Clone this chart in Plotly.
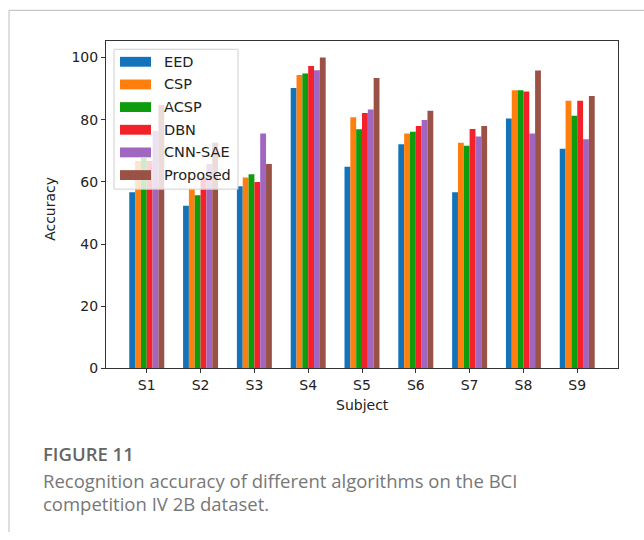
import plotly.graph_objects as go

# Accuracy (%) per subject for each method on BCI competition IV 2B
subjects = ["S1", "S2", "S3", "S4", "S5", "S6", "S7", "S8", "S9"]
methods = ["EED", "CSP", "ACSP", "DBN", "CNN-SAE", "Proposed"]

eed = [56.7, 52.3, 58.6, 90.2, 64.9, 72.1, 56.7, 80.4, 70.7]
csp = [66.7, 57.9, 61.4, 94.4, 80.8, 75.6, 72.6, 89.5, 86.1]
acsp = [67.7, 55.7, 62.5, 94.9, 76.9, 76.1, 71.6, 89.5, 81.3]
dbn = [66.7, 61.6, 60.0, 97.3, 82.2, 78.0, 77.0, 89.1, 86.1]
cnn_sae = [76.4, 65.8, 75.6, 95.9, 83.3, 79.9, 74.6, 75.6, 73.7]
proposed = [84.7, 72.6, 65.8, 100.0, 93.4, 82.9, 78.0, 95.8, 87.6]

series = [eed, csp, acsp, dbn, cnn_sae, proposed]
colors = ["#1273b9", "#ff7f0e", "#0c9c0c", "#f3222a", "#a066c0", "#9a5247"]

W, H = 644, 540
# plot area in pixels
px_left, px_right, px_top, px_bottom = 106, 618, 42, 374


def fx(px):
    return px / W


def fy(py):
    return 1 - py / H


fig = go.Figure()
for name, vals, col in zip(methods, series, colors):
    fig.add_trace(go.Bar(
        x=subjects, y=vals, name=name,
        marker=dict(color=col, line=dict(width=0)),
        showlegend=False,
    ))

tick_font = dict(family="DejaVu Sans", size=14, color="#222222")

fig.update_layout(
    width=W, height=H,
    margin=dict(l=0, r=0, t=0, b=0),
    paper_bgcolor="white",
    plot_bgcolor="white",
    barmode="group",
    bargap=0.35,
    bargroupgap=0,
    xaxis=dict(
        domain=[fx(px_left), fx(px_right)],
        range=[-0.7575, 8.7575],
        showgrid=False, zeroline=False,
        showline=True, linecolor="#333333", linewidth=1, mirror=True,
        ticks="outside", ticklen=4, tickcolor="#333333",
        tickfont=tick_font,
    ),
    yaxis=dict(
        domain=[fy(px_bottom), fy(px_top)],
        range=[0, 105.2],
        tickvals=[0, 20, 40, 60, 80, 100],
        showgrid=False, zeroline=False,
        showline=True, linecolor="#333333", linewidth=1, mirror=True,
        ticks="outside", ticklen=4, tickcolor="#333333",
        tickfont=tick_font,
    ),
)

shapes = []
annotations = []

# card frame lines
shapes.append(dict(type="line", xref="paper", yref="paper",
                   x0=fx(9), x1=1, y0=fy(10.5), y1=fy(10.5),
                   line=dict(color="#c8c8c8", width=1.2)))
shapes.append(dict(type="line", xref="paper", yref="paper",
                   x0=fx(9), x1=fx(9), y0=fy(10.5), y1=0,
                   line=dict(color="#c8c8c8", width=1.2)))

# legend box (semi-transparent, drawn over the bars)
lx0, lx1, ly0, ly1 = 114, 238, 50, 192
shapes.append(dict(type="rect", xref="paper", yref="paper", layer="above",
                   x0=fx(lx0), x1=fx(lx1), y0=fy(ly1), y1=fy(ly0),
                   fillcolor="rgba(255,255,255,0.8)",
                   line=dict(color="#d0d0d0", width=1)))
row0, row_step = 62.7, 23.0
for i, (name, col) in enumerate(zip(methods, colors)):
    cy = row0 + i * row_step
    shapes.append(dict(type="rect", xref="paper", yref="paper", layer="above",
                       x0=fx(120), x1=fx(151), y0=fy(cy + 5), y1=fy(cy - 5),
                       fillcolor=col, line=dict(width=0)))
    annotations.append(dict(text=name, xref="paper", yref="paper",
                            x=fx(162), y=fy(cy), xanchor="left", yanchor="middle",
                            showarrow=False,
                            font=dict(family="DejaVu Sans", size=14.5, color="#222222")))

# axis titles
annotations.append(dict(text="Accuracy", xref="paper", yref="paper",
                        x=fx(50), y=fy(212),
                        xanchor="center", yanchor="middle", textangle=-90,
                        showarrow=False,
                        font=dict(family="DejaVu Sans", size=14, color="#222222")))
annotations.append(dict(text="Subject", xref="paper", yref="paper",
                        x=fx((px_left + px_right) / 2), y=fy(411),
                        xanchor="center", yanchor="middle",
                        showarrow=False,
                        font=dict(family="DejaVu Sans", size=14, color="#222222")))

# caption
annotations.append(dict(text="FIGURE 11", xref="paper", yref="paper",
                        x=fx(41), y=fy(460), xanchor="left", yanchor="middle",
                        showarrow=False,
                        font=dict(family="Open Sans", size=18.5, color="#666666",
                                  weight=600)))
annotations.append(dict(text="Recognition accuracy of different algorithms on the BCI",
                        xref="paper", yref="paper",
                        x=fx(41), y=fy(488), xanchor="left", yanchor="middle",
                        showarrow=False,
                        font=dict(family="Open Sans", size=18.5, color="#777777")))
annotations.append(dict(text="competition IV 2B dataset.",
                        xref="paper", yref="paper",
                        x=fx(41), y=fy(511), xanchor="left", yanchor="middle",
                        showarrow=False,
                        font=dict(family="Open Sans", size=18.5, color="#777777")))

fig.update_layout(shapes=shapes, annotations=annotations)
fig.write_html("out.html")
